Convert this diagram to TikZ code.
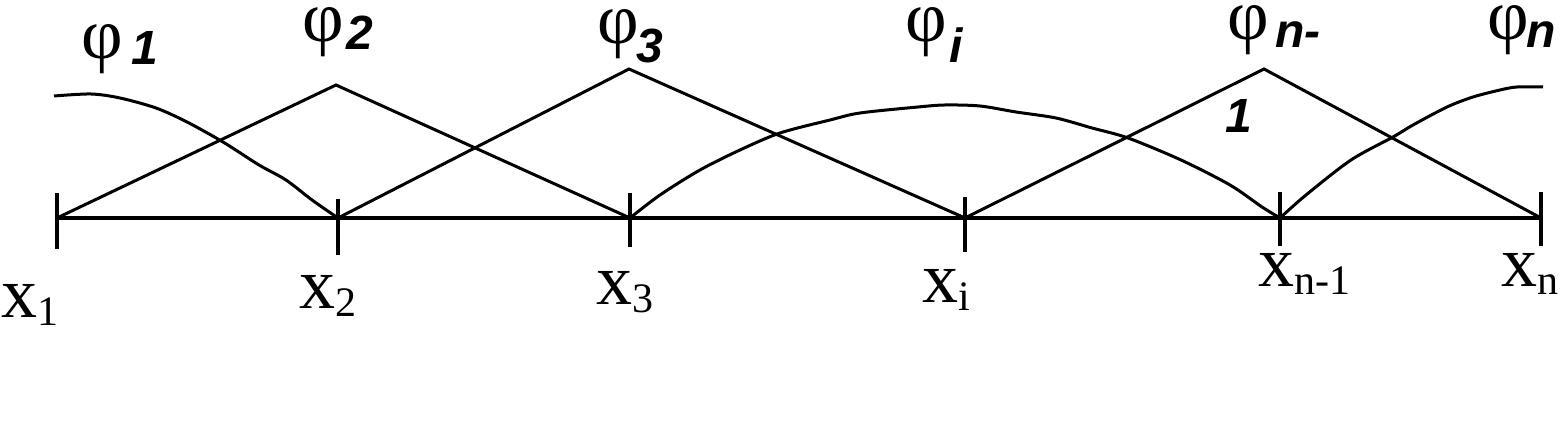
\documentclass[tikz,border=0pt]{standalone}
\usepackage{fontspec}
\setmainfont{Liberation Serif}
\newfontfamily\subsans{Liberation Sans}
\usetikzlibrary{positioning}

\newcommand{\phisym}{{\fontsize{36}{36}\selectfont φ}}
\newcommand{\phisub}[1]{{\subsans\bfseries\itshape\fontsize{24}{24}\selectfont #1}}
\newcommand{\xlab}[1]{{\fontsize{36}{36}\selectfont x}\raisebox{-4pt}{\fontsize{21}{21}\selectfont #1}}

\begin{document}
\begin{tikzpicture}[x=0.5pt,y=-0.5pt]
\tikzstyle{every node}+=[inner sep=0pt,anchor=base west]
\tikzstyle{hat}=[black,line width=1.5pt,line join=miter]
\tikzstyle{tick}=[black,line width=1.8pt]
\useasboundingbox (0,0) rectangle (1560,426);
% nodes on the axis and peaks
\coordinate (x1) at (57,218);
\coordinate (x2) at (338,218);
\coordinate (x3) at (630,218);
\coordinate (xi) at (965,218);
\coordinate (xn1) at (1280,218);
\coordinate (xn) at (1541,218);
\coordinate (p2) at (336,85);
\coordinate (p3) at (629,69);
\coordinate (pn1) at (1264,69);
% axis
\draw [black,line width=2pt] (x1) -- (xn);
\draw [tick] (x1) ++(0,-25) -- ++(0,56);
\draw [tick] (x2) ++(0,-19) -- ++(0,56);
\draw [tick] (x3) ++(0,-25) -- ++(0,54);
\draw [tick] (xi) ++(0,-21) -- ++(0,55);
\draw [tick] (xn1) ++(0,-26) -- ++(0,54);
\draw [tick] (xn) ++(0,-26) -- ++(0,54);
% hat functions
\draw [hat] (x1) -- (p2) -- (x3);
\draw [hat] (x2) -- (p3) -- (xi);
\draw [hat] (xi) -- (pn1) -- (xn);
% curved ones
\draw [hat] plot [smooth,tension=0.5] coordinates {(54,96) (91,94) (120,98) (156,108) (187,122) (223,142) (259,165) (286,180) (312,200) (338,218)};
\draw [hat] plot [smooth,tension=0.5] coordinates {(630,218) (660,195) (700,170) (740,150) (780,133) (830,120) (860,113) (918,107) (945,105) (980,106) (1016,112) (1056,118) (1092,128) (1128,138) (1181,160) (1230,185) (1262,207) (1280,218)};
\draw [hat] plot [smooth,tension=0.5] coordinates {(1280,218) (1306,195) (1351,160) (1393,137) (1413,125) (1447,107) (1473,97) (1500,90) (1517,87) (1543,87)};
% phi labels
\node (phi1) at (81,59) {\phisym};
\node (s1) at (131,65) {\phisub{1}};
\node (phi2) at (302,42) {\phisym};
\node (s2) at (346,50) {\phisub{2}};
\node (phi3) at (597,44) {\phisym};
\node (s3) at (636,63) {\phisub{3}};
\node (phii) at (905,42) {\phisym};
\node (si) at (949,63) {\phisub{i}};
\node (phin1) at (1227,40) {\phisym};
\node (sn1) at (1275,48) {\phisub{n-}};
\node (sn1b) at (1225,133) {\phisub{1}};
\node (phin) at (1487,40) {\phisym};
\node (sn) at (1526,48) {\phisub{n}};
% x labels
\node (lx1) at (1,318) {\xlab{1}};
\node (lx2) at (299,309) {\xlab{2}};
\node (lx3) at (596,305) {\xlab{3}};
\node (lxi) at (922,303) {\xlab{i}};
\node (lxn1) at (1258,287) {\xlab{n-1}};
\node (lxn) at (1501,287) {\xlab{n}};
\end{tikzpicture}
\end{document}
